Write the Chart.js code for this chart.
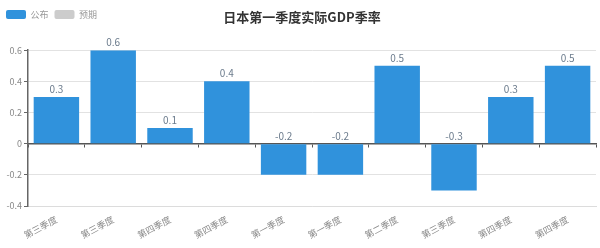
<!DOCTYPE html>
<html><head><meta charset="utf-8">
<script src="https://cdn.jsdelivr.net/npm/chart.js@4/dist/chart.umd.min.js"></script>
<style>html,body{margin:0;padding:0;background:#fff}#wrap{width:600px;height:248px;position:relative}</style>
</head><body><div id="wrap"><canvas id="c"></canvas></div>
<script>
const categories = ['第三季度','第三季度','第四季度','第四季度','第一季度','第一季度','第二季度','第三季度','第四季度','第四季度'];
const publishedValues = [0.3, 0.6, 0.1, 0.4, -0.2, -0.2, 0.5, -0.3, 0.3, 0.5];
const expectedValues = [null, null, null, null, null, null, null, null, null, null];
const yTicks = [-0.4, -0.2, 0, 0.2, 0.4, 0.6];
const titleText = '日本第一季度实际GDP季率';
const seriesNames = ['公布', '预期'];

const FONT = "'Noto Sans CJK SC', 'Noto Sans', sans-serif";

const valueLabels = {
  id: 'valueLabels',
  afterDatasetsDraw(chart) {
    const ctx = chart.ctx;
    const meta = chart.getDatasetMeta(0);
    ctx.save();
    ctx.font = "10px " + FONT;
    ctx.fillStyle = '#6b7b8c';
    ctx.textAlign = 'center';
    ctx.textBaseline = 'bottom';
    meta.data.forEach((bar, i) => {
      const v = publishedValues[i];
      if (v == null) return;
      const top = Math.min(bar.y, bar.base);
      ctx.fillText(String(v), bar.x, top - 3);
    });
    ctx.restore();
  }
};

const titlePlugin = {
  id: 'titlePlugin',
  afterDraw(chart) {
    const ctx = chart.ctx;
    ctx.save();
    ctx.font = "bold 13px " + FONT;
    ctx.fillStyle = '#333';
    ctx.textAlign = 'center';
    ctx.textBaseline = 'middle';
    ctx.fillText(titleText, 302, 17);
    ctx.restore();
  }
};

new Chart(document.getElementById('c'), {
  type: 'bar',
  data: {
    labels: categories,
    datasets: [
      { label: seriesNames[0], data: publishedValues, backgroundColor: '#3092dc', borderWidth: 0 },
      { label: seriesNames[1], data: expectedValues, backgroundColor: '#cccccc', borderWidth: 0 }
    ]
  },
  options: {
    responsive: true,
    maintainAspectRatio: false,
    animation: false,
    grouped: false,
    barPercentage: 0.8,
    categoryPercentage: 1.0,
    layout: { padding: { top: 4, right: 4, left: 0, bottom: 0 } },
    plugins: {
      legend: {
        display: true,
        position: 'top',
        align: 'start',
        labels: {
          boxWidth: 20, boxHeight: 9, useBorderRadius: true, borderRadius: 2,
          font: { family: FONT, size: 9 }, color: '#999', padding: 6
        }
      },
      title: {
        display: true, text: ' ', weight: 500,
        font: { size: 1 }, padding: { top: 0, bottom: 20 }
      },
      tooltip: { enabled: false }
    },
    scales: {
      x: {
        position: 'bottom',
        grid: { display: false },
        border: { display: true, color: '#dcdcdc', width: 1 },
        ticks: {
          minRotation: 28, maxRotation: 28, autoSkip: false,
          font: { family: FONT, size: 9 }, color: '#888', padding: 0
        },
        afterFit(scale) { scale.height = 42; }
      },
      x2: {
        type: 'category',
        position: { y: 0 },
        offset: true,
        grid: { display: true, drawOnChartArea: false, drawTicks: true, tickLength: 3, offset: true, color: '#555', tickColor: '#555' },
        border: { display: true, color: '#555', width: 1.5 },
        ticks: { display: false }
      },
      y: {
        min: -0.4, max: 0.6,
        afterBuildTicks(scale) { scale.ticks = yTicks.map(v => ({ value: v })); },
        grid: { color: '#e2e2e2', tickLength: 4, tickColor: '#666' },
        border: { display: true, color: '#666', width: 1.5 },
        ticks: {
          font: { family: FONT, size: 9 }, color: '#888', padding: 2,
          callback: v => String(+Number(v).toFixed(1))
        },
        afterFit(scale) { scale.width = 28; }
      }
    }
  },
  plugins: [valueLabels, titlePlugin]
});
</script></body></html>
